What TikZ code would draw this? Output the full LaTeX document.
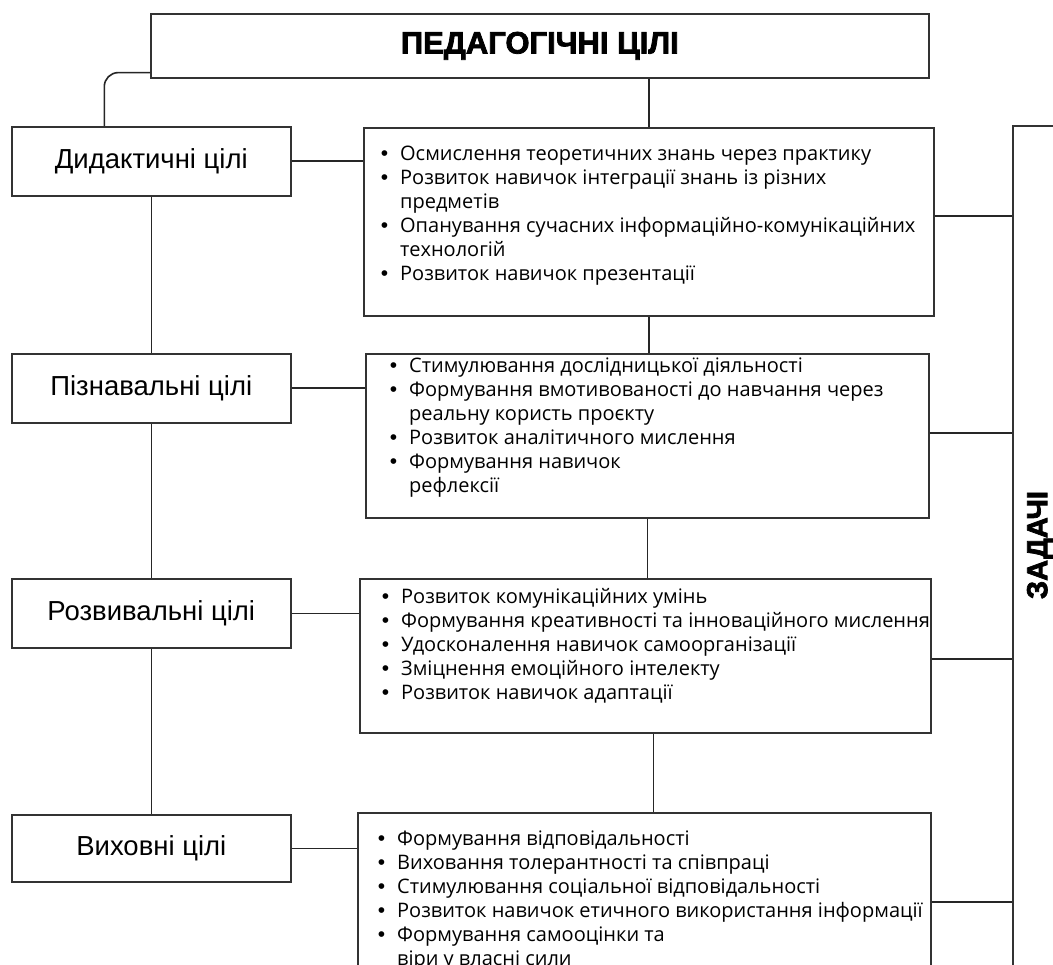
\documentclass[tikz,border=0pt]{standalone}
\usepackage{fontspec}
\setmainfont{Open Sans}
\newfontfamily\labelfont{Liberation Sans}
\newfontfamily\heavyfont{Liberation Sans Bold}[FakeBold=2.5]

% boxes with a bullet list set at the top
\newcommand{\goallist}[5]{%
  \begin{minipage}[t][#2][t]{#1}
  \vspace*{#3}\noindent
  \begin{tabular}[t]{@{\hspace{\dimexpr#4-19pt\relax}}c@{\hspace{12pt}}l@{}}
  #5
  \end{tabular}
  \end{minipage}}
\newcommand{\dotmark}{{\labelfont\fontsize{21}{24}\selectfont\textbullet}}

\tikzset{
  headbox/.style={draw=black!80, anchor=north west, minimum width=778pt, minimum height=64pt, inner sep=0pt, font=\heavyfont\fontsize{31}{36}\selectfont},
  goalbox/.style={draw=black!80, anchor=north west, minimum width=279pt, minimum height=69pt, inner sep=0pt, font=\labelfont\fontsize{27.5}{32}\selectfont},
  listbox/.style={draw=black!80, anchor=north west, inner sep=0pt, font=\fontsize{20}{24}\selectfont},
  taskbox/.style={draw=black!80, anchor=north west, minimum width=100pt, minimum height=900pt},
  link/.style={draw=black!85}
}

\begin{document}
\begin{tikzpicture}[x=1pt, y=-1pt, line width=1.6pt]
	\useasboundingbox (0,0) rectangle (1053,965);
	\clip (0,0) rectangle (1053,965);
	\fill [white] (0,0) rectangle (1053,965);

	\node [headbox] (head) at (150,13) {\raisebox{-2pt}{ПЕДАГОГІЧНІ ЦІЛІ}};

	% left column
	\node [goalbox] (did) at (11,126) {Дидактичні цілі};
	\node [goalbox] (piz) at (11,353) {Пізнавальні цілі};
	\node [goalbox] (roz) at (11,578) {Розвивальні цілі};
	\node [goalbox, minimum height=67pt] (vyh) at (11,814) {Виховні цілі};

	% middle column
	\node [listbox] (b1) at (363,127) {\goallist{570pt}{188pt}{16pt}{36pt}{%
		\dotmark & Осмислення теоретичних знань через практику \\
		\dotmark & Розвиток навичок інтеграції знань із різних \\
		& предметів \\
		\dotmark & Опанування сучасних інформаційно-комунікаційних \\
		& технологій \\
		\dotmark & Розвиток навичок презентації}};
	\node [listbox] (b2) at (365,353) {\goallist{563pt}{164pt}{2pt}{43pt}{%
		\dotmark & Стимулювання дослідницької діяльності \\
		\dotmark & Формування вмотивованості до навчання через \\
		& реальну користь проєкту \\
		\dotmark & Розвиток аналітичного мислення \\
		\dotmark & Формування навичок \\
		& рефлексії}};
	\node [listbox] (b3) at (359,578) {\goallist{571pt}{154pt}{8pt}{41pt}{%
		\dotmark & Розвиток комунікаційних умінь \\
		\dotmark & Формування креативності та інноваційного мислення \\
		\dotmark & Удосконалення навичок самоорганізації \\
		\dotmark & Зміцнення емоційного інтелекту \\
		\dotmark & Розвиток навичок адаптації}};
	\node [listbox] (b4) at (357,812) {\goallist{573pt}{178pt}{16pt}{39pt}{%
		\dotmark & Формування відповідальності \\
		\dotmark & Виховання толерантності та співпраці \\
		\dotmark & Стимулювання соціальної відповідальності \\
		\dotmark & Розвиток навичок етичного використання інформації \\
		\dotmark & Формування самооцінки та \\
		& віри у власні сили}};

	% right column
	\node [taskbox] (zad) at (1012,125) {};
	\node [rotate=90, font=\heavyfont\fontsize{29}{34}\selectfont] (zadlabel) at (1040,545) {ЗАДАЧІ};

	% connectors
	\draw [link, rounded corners=14pt] ([yshift=6pt]head.south west) -| ([xshift=-47pt]did.north);
	\draw [link] (did.south) -- (piz.north);
	\draw [link] (piz.south) -- (roz.north);
	\draw [link] (roz.south) -- (vyh.north);
	\draw [link] (did.east) -- (did.east -| b1.west);
	\draw [link] (piz.east) -- (piz.east -| b2.west);
	\draw [link] (roz.east) -- (roz.east -| b3.west);
	\draw [link] (vyh.east) -- (vyh.east -| b4.west);
	\draw [link] (head.south -| b1.north) -- (b1.north);
	\draw [link] (b1.south) -- (b1.south |- b2.north);
	\draw [link] (b2.south) -- (b2.south |- b3.north);
	\draw [link] ([xshift=8pt]b3.south) -- ([xshift=8pt]b3.south |- b4.north);
	\draw [link] ([yshift=6pt]b1.east) -- ([yshift=6pt]b1.east -| zad.west);
	\draw [link] ([yshift=3pt]b2.east) -- ([yshift=3pt]b2.east -| zad.west);
	\draw [link] ([yshift=-3pt]b3.east) -- ([yshift=-3pt]b3.east -| zad.west);
	\draw [link] (b4.east) -- (b4.east -| zad.west);
\end{tikzpicture}
\end{document}
